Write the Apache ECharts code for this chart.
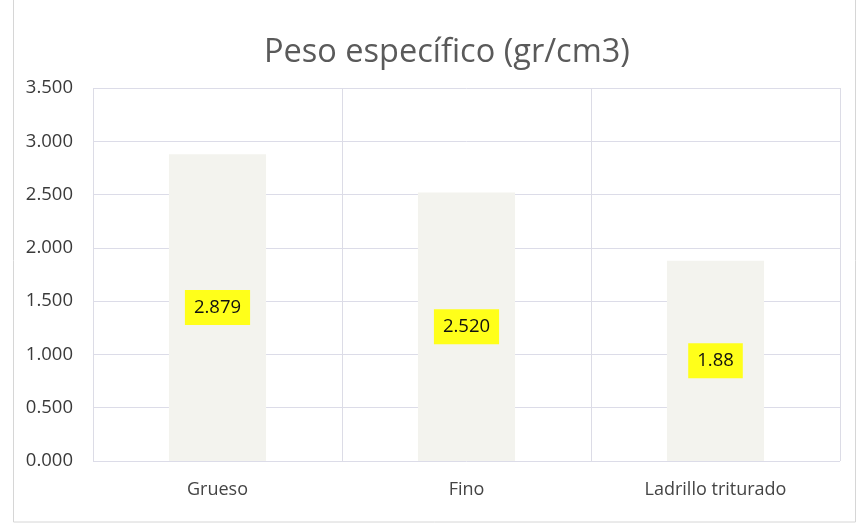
<!DOCTYPE html>
<html><head><meta charset="utf-8">
<script src="https://cdn.jsdelivr.net/npm/echarts@6/dist/echarts.min.js"></script>
<style>html,body{margin:0;padding:0;background:#fff}#c{width:859px;height:528px}</style>
</head><body><div id="c"></div>
<script>
const categories = ['Grueso', 'Fino', 'Ladrillo triturado'];
const values = [2.879, 2.520, 1.88];
const valueLabels = ['2.879', '2.520', '1.88'];
const yTicks = ['0.000','0.500','1.000','1.500','2.000','2.500','3.000','3.500'];

const chart = echarts.init(document.getElementById('c'));
chart.setOption({
  animation: false,
  backgroundColor: '#fff',
  title: {
    text: 'Peso específico (gr/cm3)',
    left: 442, top: 31, textAlign: 'center',
    textStyle: {fontFamily: 'Open Sans', fontSize: 32.5, fontWeight: 'normal', color: '#5a5a5a'}
  },
  graphic: [{
    type: 'rect', shape: {x: 13.5, y: -2, width: 842, height: 524},
    style: {fill: 'none', stroke: '#d6d6d6', lineWidth: 1}, silent: true
  }],
  grid: {left: 93, right: 19, top: 88, bottom: 67, containLabel: false},
  xAxis: {
    type: 'category', data: categories,
    axisLine: {show: false}, axisTick: {show: false},
    axisLabel: {fontFamily: 'Open Sans', fontSize: 18, color: '#444', margin: 20},
    splitLine: {show: true, lineStyle: {color: '#dcdce6', width: 1}}
  },
  yAxis: {
    type: 'value', min: 0, max: 3.5, interval: 0.5,
    axisLine: {show: false}, axisTick: {show: false},
    axisLabel: {fontFamily: 'Open Sans', fontSize: 18.5, color: '#3a3a3a', margin: 20,
      formatter: (v) => yTicks[Math.round(v / 0.5)]},
    splitLine: {lineStyle: {color: '#dcdce8', width: 1}}
  },
  series: [{
    type: 'bar', data: values, barWidth: '39%',
    itemStyle: {color: '#f3f3ee'},
    label: {
      show: true, position: 'inside', offset: [0, 0],
      formatter: (p) => valueLabels[p.dataIndex],
      backgroundColor: '#ffff1a', padding: [8, 9, 7, 9], lineHeight: 20,
      fontFamily: 'Open Sans', fontSize: 18.5, color: '#111'
    }
  }]
});
</script></body></html>
